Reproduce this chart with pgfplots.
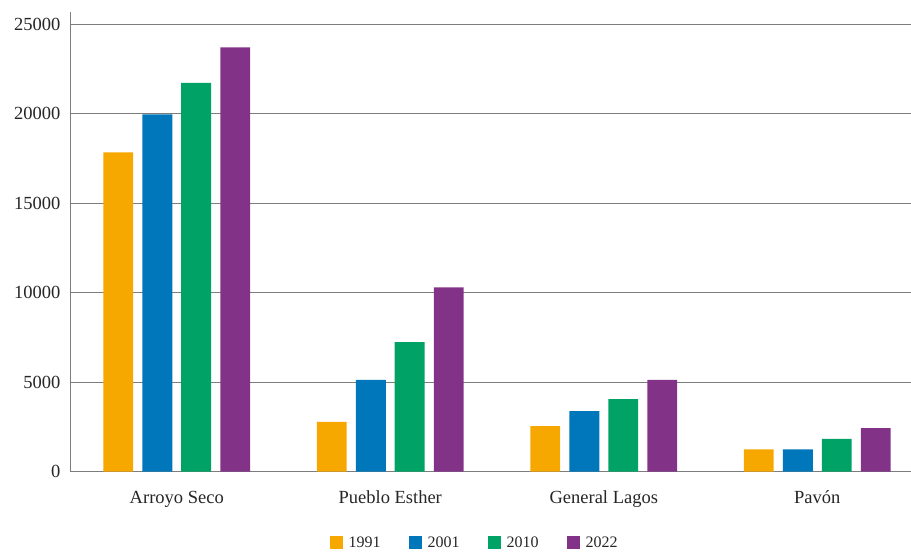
\documentclass[border=0pt]{standalone}
\usepackage{fontspec}
\setmainfont{Liberation Serif}
\usepackage{pgfplots}
\pgfplotsset{compat=1.18}
\definecolor{c1}{RGB}{247,168,0}
\definecolor{c2}{RGB}{0,119,187}
\definecolor{c3}{RGB}{0,162,102}
\definecolor{c4}{RGB}{130,50,135}
\definecolor{gridc}{RGB}{125,125,125}
\begin{document}
\begin{tikzpicture}
\useasboundingbox (0,0) rectangle (911bp,554bp);
\begin{axis}[
  at={(70bp,82.5bp)}, anchor=south west,
  scale only axis, width=841bp, height=459.5bp,
  xmin=-0.5, xmax=3.439, ymin=0, ymax=25700,
  axis x line*=bottom, axis y line*=left,
  axis line style={gridc, line width=0.9bp, -},
  xtick={0,1,2,3},
  xticklabels={Arroyo Seco, Pueblo Esther, General Lagos, Pavón},
  ytick={0,5000,10000,15000,20000,25000},
  ymajorgrids, major grid style={gridc, line width=0.9bp},
  major tick length=0pt,
  /pgf/number format/assume math mode=true,
  scaled y ticks=false,
  yticklabel={\pgfmathprintnumber[fixed,precision=0,1000 sep={}]{\tick}},
  tick label style={font=\fontsize{18.5bp}{22bp}\selectfont, text=black!85},
  yticklabel style={xshift=-6bp},
  xticklabel style={yshift=-16bp},
  clip=false,
  legend columns=4,
  legend style={draw=none, fill=none, at={(0.481,-0.1556)}, anchor=center,
    font=\fontsize{16bp}{19bp}\selectfont, text=black!85,
    /tikz/every odd column/.append style={column sep=4bp},
    /tikz/every even column/.append style={column sep=26bp}},
  legend image code/.code={\fill[#1] (0bp,-6.5bp) rectangle (13bp,6.5bp);},
]
\addplot[ybar, bar width=0.14, bar shift=-0.274, fill=c1, draw=none] coordinates {(0,17850) (1,2770) (2,2540) (3,1240)};
\addplot[ybar, bar width=0.14, bar shift=-0.091, fill=c2, draw=none] coordinates {(0,19970) (1,5120) (2,3370) (3,1240)};
\addplot[ybar, bar width=0.14, bar shift=0.091, fill=c3, draw=none] coordinates {(0,21730) (1,7240) (2,4050) (3,1820)};
\addplot[ybar, bar width=0.14, bar shift=0.274, fill=c4, draw=none] coordinates {(0,23720) (1,10300) (2,5120) (3,2420)};
\legend{1991,2001,2010,2022}
\end{axis}
\end{tikzpicture}
\end{document}
